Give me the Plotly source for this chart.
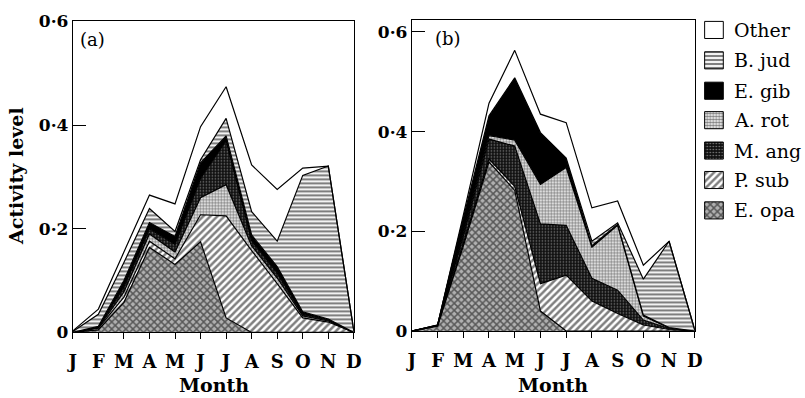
import plotly.graph_objects as go

# Month axis
months = ["J", "F", "M", "A", "M", "J", "J", "A", "S", "O", "N", "D"]
month_idx = list(range(12))

# Panel (a): monthly activity level of each taxon (layer thickness)
a_e_opa = [0, 0.005, 0.058, 0.164, 0.131, 0.175, 0.028, 0, 0, 0, 0, 0]
a_p_sub = [0, 0.003, 0.010, 0.012, 0.011, 0.052, 0.197, 0.158, 0.094, 0.028, 0.020, 0]
a_a_rot = [0, 0.001, 0.010, 0.014, 0.013, 0.033, 0.060, 0.009, 0.011, 0.004, 0.002, 0]
a_m_ang = [0, 0.001, 0.010, 0.010, 0.015, 0.037, 0.085, 0.010, 0.010, 0.003, 0.002, 0]
a_e_gib = [0, 0.002, 0.012, 0.012, 0.015, 0.030, 0.009, 0.011, 0.012, 0.005, 0.002, 0]
a_b_jud = [0.002, 0.023, 0.035, 0.027, 0.010, 0.006, 0.034, 0.045, 0.049, 0.263, 0.295, 0.003]
a_other = [0.001, 0.010, 0.020, 0.026, 0.053, 0.064, 0.061, 0.090, 0.100, 0.014, 0, 0]

# Panel (b)
b_e_opa = [0, 0.010, 0.170, 0.339, 0.282, 0.040, 0, 0, 0, 0, 0, 0]
b_p_sub = [0, 0, 0.005, 0.006, 0.008, 0.055, 0.112, 0.060, 0.035, 0.012, 0.003, 0]
b_m_ang = [0, 0.001, 0.015, 0.040, 0.081, 0.120, 0.100, 0.046, 0.047, 0.010, 0.002, 0]
b_a_rot = [0, 0, 0.005, 0.007, 0.012, 0.079, 0.116, 0.062, 0.130, 0.008, 0.001, 0]
b_e_gib = [0, 0.001, 0.030, 0.038, 0.124, 0.102, 0.017, 0.003, 0.002, 0.002, 0.001, 0]
b_b_jud = [0, 0, 0.001, 0.002, 0.001, 0.002, 0.002, 0.009, 0.003, 0.072, 0.173, 0.002]
b_other = [0, 0, 0.006, 0.025, 0.055, 0.037, 0.071, 0.067, 0.044, 0.028, 0, 0]

y_tick_vals = [0, 0.2, 0.4, 0.6]
y_tick_text = ["0", "0·2", "0·4", "0·6"]

legend_order = ["Other", "B. jud", "E. gib", "A. rot", "M. ang", "P. sub", "E. opa"]

FONT = "DejaVu Serif"
W, H = 805, 398

styles = {
    "E. opa": dict(fillcolor="white",
                   fillpattern=dict(shape="x", fgcolor="black", bgcolor="#b0b0b0",
                                    size=5, solidity=0.5)),
    "P. sub": dict(fillcolor="white",
                   fillpattern=dict(shape="/", fgcolor="black", bgcolor="white",
                                    size=5, solidity=0.5)),
    "M. ang": dict(fillcolor="black",
                   fillpattern=dict(shape=".", fgcolor="white", bgcolor="#111111",
                                    size=3, solidity=0.2)),
    "A. rot": dict(fillcolor="white",
                   fillpattern=dict(shape=".", fgcolor="black", bgcolor="white",
                                    size=3, solidity=0.55)),
    "E. gib": dict(fillcolor="black"),
    "B. jud": dict(fillcolor="white",
                   fillpattern=dict(shape="-", fgcolor="black", bgcolor="white",
                                    size=4, solidity=0.55)),
    "Other": dict(fillcolor="white"),
}

panel_a = [("E. opa", a_e_opa), ("P. sub", a_p_sub), ("A. rot", a_a_rot),
           ("M. ang", a_m_ang), ("E. gib", a_e_gib), ("B. jud", a_b_jud),
           ("Other", a_other)]
panel_b = [("E. opa", b_e_opa), ("P. sub", b_p_sub), ("M. ang", b_m_ang),
           ("A. rot", b_a_rot), ("E. gib", b_e_gib), ("B. jud", b_b_jud),
           ("Other", b_other)]

fig = go.Figure()

for group, (xa, ya), layers in [("a", ("x", "y"), panel_a),
                                ("b", ("x2", "y2"), panel_b)]:
    for name, vals in layers:
        fig.add_trace(go.Scatter(
            x=month_idx, y=vals, name=name, stackgroup=group,
            mode="lines", line=dict(color="black", width=1.2),
            xaxis=xa, yaxis=ya, showlegend=False, hoverinfo="skip",
            **styles[name]))

# Legend swatches drawn on a pixel-scaled helper axis
sw_x0, sw_x1, sw_half = 711, 730, 9
legend_rows = [21, 53, 85, 116, 148, 179, 211]
for name, yc in zip(legend_order, legend_rows):
    fig.add_trace(go.Scatter(
        x=[sw_x0, sw_x1, sw_x1, sw_x0, sw_x0],
        y=[yc - sw_half, yc - sw_half, yc + sw_half, yc + sw_half, yc - sw_half],
        fill="toself", mode="lines", line=dict(color="black", width=1),
        xaxis="x3", yaxis="y3", showlegend=False, hoverinfo="skip",
        **styles[name]))
    fig.add_annotation(x=739 / W, y=1 - yc / H, xref="paper", yref="paper",
                       text=name, showarrow=False, xanchor="left",
                       yanchor="middle",
                       font=dict(family=FONT, size=19, color="black"))

axis_common = dict(showline=True, mirror=True, linecolor="black", linewidth=1,
                   showgrid=False, zeroline=False, fixedrange=True)
x_common = dict(axis_common, range=[0, 11], tickvals=month_idx, ticktext=months,
                ticks="outside", ticklen=6, tickcolor="black",
                ticklabelstandoff=7,
                tickfont=dict(family=FONT, size=18, color="black", weight="bold"))
y_common = dict(axis_common, tickvals=y_tick_vals, ticktext=y_tick_text,
                ticks="inside", ticklen=13, tickcolor="black",
                tickfont=dict(family=FONT, size=17, color="black", weight="bold"))

fig.update_layout(
    width=W, height=H, margin=dict(l=0, r=0, t=0, b=0),
    paper_bgcolor="white", plot_bgcolor="rgba(0,0,0,0)",
    showlegend=False,
    xaxis=dict(x_common, domain=[68 / W, 354 / W], anchor="y"),
    yaxis=dict(y_common, domain=[1 - 339.5 / H, 1 - 12 / H], range=[0, 0.6],
               anchor="x"),
    xaxis2=dict(x_common, domain=[413 / W, 701 / W], anchor="y2"),
    yaxis2=dict(y_common, domain=[1 - 338 / H, 1 - 11 / H], range=[0, 0.623],
                anchor="x2"),
    xaxis3=dict(domain=[706 / W, 1], range=[706, 805], visible=False,
                fixedrange=True, anchor="y3"),
    yaxis3=dict(domain=[0, 1], range=[398, 0], visible=False,
                fixedrange=True, anchor="x3"),
)

# Panel letters, axis titles
fig.add_annotation(x=73 / W, y=1 - 31 / H, xref="paper", yref="paper",
                   text="(a)", showarrow=False, xanchor="left", yanchor="middle",
                   font=dict(family=FONT, size=18, color="black"))
fig.add_annotation(x=435 / W, y=1 - 30 / H, xref="paper", yref="paper",
                   text="(b)", showarrow=False, xanchor="left", yanchor="middle",
                   font=dict(family=FONT, size=18, color="black"))
for xc in (212, 557):
    fig.add_annotation(x=xc / W, y=1 - 395 / H, xref="paper", yref="paper",
                       text="Month", showarrow=False, xanchor="center",
                       yanchor="middle",
                       font=dict(family=FONT, size=19, color="black",
                                 weight="bold"))
fig.add_annotation(x=10 / W, y=1 - 175 / H, xref="paper", yref="paper",
                   text="Activity level", showarrow=False, textangle=-90,
                   xanchor="center", yanchor="middle",
                   font=dict(family=FONT, size=19, color="black", weight="bold"))

fig.write_html("out.html")
